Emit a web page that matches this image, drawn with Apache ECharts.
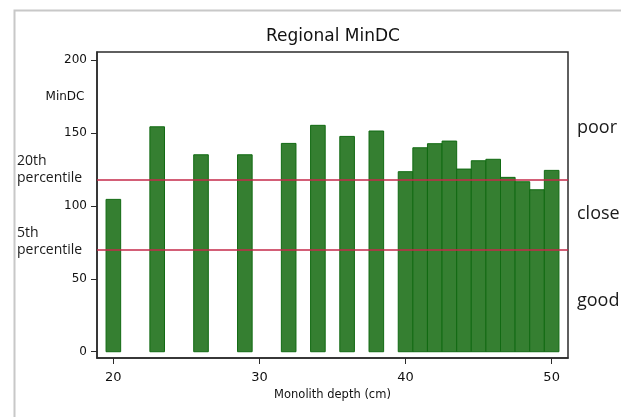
<!DOCTYPE html>
<html>
<head>
<meta charset="utf-8">
<script src="https://cdn.jsdelivr.net/npm/echarts@6/dist/echarts.min.js"></script>
<style>
html,body{margin:0;padding:0;background:#fff;}
#chart{width:621px;height:417px;}
</style>
</head>
<body>
<div id="chart"></div>
<script>
// Data
var depths = [20, 23, 26, 29, 32, 34, 36, 38, 40, 41, 42, 43, 44, 45, 46, 47, 48, 49, 50];
var minDC  = [104.5, 154.3, 135.1, 135.1, 142.9, 155.3, 147.7, 151.4, 123.5, 139.9, 142.7, 144.5, 125.3, 131.0, 132.0, 119.6, 116.6, 111.1, 124.4];
var percentile20 = 118.3;
var percentile5 = 69.7;
var xTicks = [20, 30, 40, 50];
var yTicks = [0, 50, 100, 150, 200];
var titleText = 'Regional MinDC';
var xName = 'Monolith depth (cm)';
var yName = 'MinDC';
var zoneLabels = ['poor', 'close', 'good'];

var barData = depths.map(function (d, i) { return [d, minDC[i]]; });

var chart = echarts.init(document.getElementById('chart'), null, {renderer: 'canvas'});
var axisColor = '#2b2b2b';
var tickFont = 'DejaVu Sans';
var option = {
  animation: false,
  backgroundColor: '#ffffff',
  grid: {left: 97, right: 53, top: 52, bottom: 59, show: true, borderColor: axisColor, borderWidth: 1.5, backgroundColor: 'transparent'},
  xAxis: {
    type: 'value', min: 18.88, max: 51.12,
    splitLine: {show: false},
    axisLine: {show: true, onZero: false, lineStyle: {color: axisColor, width: 1.5}},
    axisTick: {show: true, length: 6, customValues: xTicks, lineStyle: {color: axisColor, width: 1}},
    axisLabel: {customValues: xTicks, margin: 13, color: '#111', fontFamily: tickFont, fontSize: 13},
    name: xName, nameLocation: 'middle', nameGap: 21,
    nameTextStyle: {color: '#111', fontFamily: tickFont, fontSize: 11.5}
  },
  yAxis: {
    type: 'value', min: -4.3, max: 205.6,
    splitLine: {show: false},
    axisLine: {show: true, onZero: false, lineStyle: {color: axisColor, width: 1.5}},
    axisTick: {show: true, length: 6, customValues: yTicks, lineStyle: {color: axisColor, width: 1}},
    axisLabel: {customValues: yTicks, margin: 10, color: '#111', fontFamily: tickFont, fontSize: 12}
  },
  series: [{
    type: 'custom',
    data: barData,
    renderItem: function (params, api) {
      var x = api.value(0), y = api.value(1);
      var p0 = api.coord([x - 0.5, y]);
      var p1 = api.coord([x + 0.5, 0]);
      return {
        type: 'rect',
        shape: {x: p0[0], y: p0[1], width: p1[0] - p0[0], height: p1[1] - p0[1]},
        style: {fill: '#357f31', stroke: '#116a12', lineWidth: 1}
      };
    },
    encode: {x: 0, y: 1},
    markLine: {
      silent: true, symbol: 'none', label: {show: false},
      lineStyle: {color: '#c42a4a', width: 1.5, type: 'solid'},
      data: [{yAxis: percentile20}, {yAxis: percentile5}]
    },
    z: 2
  }],
  graphic: [
    {type: 'rect', left: 12, top: 8, shape: {x: 0, y: 0, width: 650, height: 450}, style: {fill: 'none', stroke: '#c8c8c8', lineWidth: 2}, silent: true, z: -10},
    {type: 'text', x: 333, y: 37, style: {text: titleText, fontFamily: 'DejaVu Sans', fontSize: 17, fill: '#111', textAlign: 'center', textVerticalAlign: 'middle'}},
    {type: 'text', x: 65, y: 97, style: {text: yName, fontFamily: 'DejaVu Sans', fontSize: 12, fill: '#111', textAlign: 'center', textVerticalAlign: 'middle'}},
    {type: 'text', x: 17, y: 161, style: {text: '20th', fontFamily: 'Open Sans', fontSize: 14, fill: '#1a1a1a', textAlign: 'left', textVerticalAlign: 'middle'}},
    {type: 'text', x: 17, y: 178, style: {text: 'percentile', fontFamily: 'Open Sans', fontSize: 14, fill: '#1a1a1a', textAlign: 'left', textVerticalAlign: 'middle'}},
    {type: 'text', x: 17, y: 233, style: {text: '5th', fontFamily: 'Open Sans', fontSize: 14, fill: '#1a1a1a', textAlign: 'left', textVerticalAlign: 'middle'}},
    {type: 'text', x: 17, y: 250, style: {text: 'percentile', fontFamily: 'Open Sans', fontSize: 14, fill: '#1a1a1a', textAlign: 'left', textVerticalAlign: 'middle'}},
    {type: 'text', x: 577, y: 128, style: {text: zoneLabels[0], fontFamily: 'Open Sans', fontSize: 18, fill: '#1a1a1a', textAlign: 'left', textVerticalAlign: 'middle'}},
    {type: 'text', x: 577, y: 214, style: {text: zoneLabels[1], fontFamily: 'Open Sans', fontSize: 18, fill: '#1a1a1a', textAlign: 'left', textVerticalAlign: 'middle'}},
    {type: 'text', x: 577, y: 301, style: {text: zoneLabels[2], fontFamily: 'Open Sans', fontSize: 18, fill: '#1a1a1a', textAlign: 'left', textVerticalAlign: 'middle'}}
  ]
};
chart.setOption(option);
</script>
</body>
</html>
